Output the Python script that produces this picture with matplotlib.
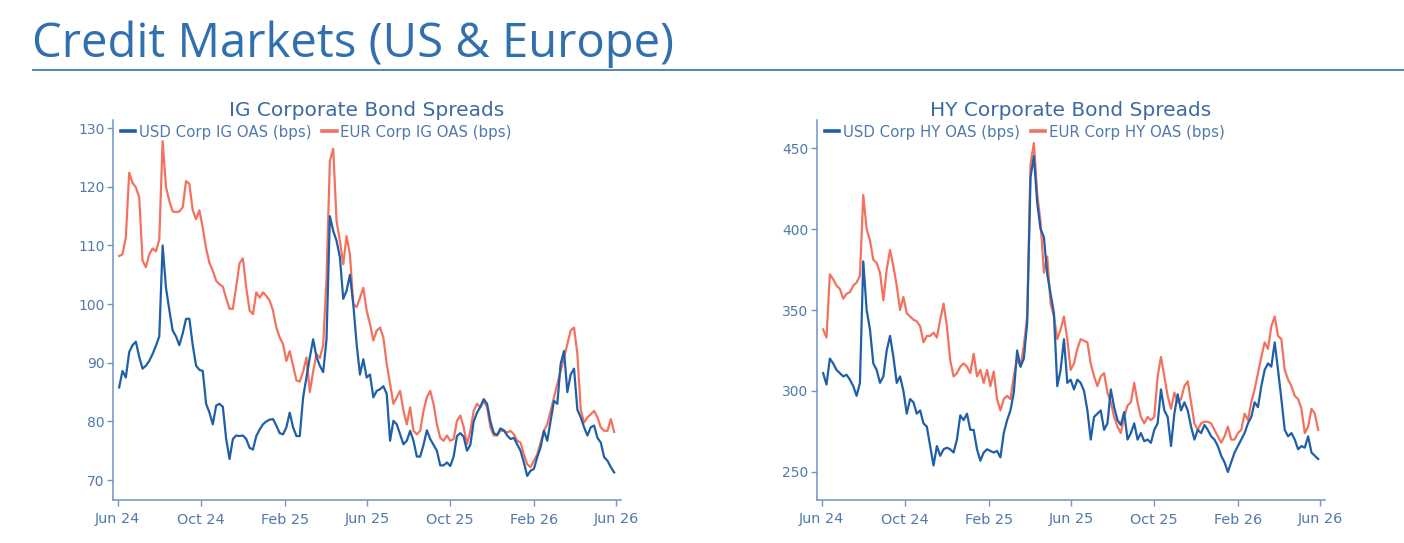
import matplotlib
matplotlib.use('Agg')
import matplotlib.pyplot as plt
import matplotlib.dates as mdates
from matplotlib.lines import Line2D
import pandas as pd

# ---------------- data ----------------
start_date = '2024-06-03'
end_date = '2026-05-29'

usd_ig = [85.8, 88.6, 87.5, 91.8, 93.0, 93.6, 91.0, 89.0, 89.5, 90.3,
          91.5, 92.9, 94.5, 110.0, 102.8, 99.0, 95.5, 94.5, 93.0, 95.0,
          97.5, 97.5, 93.0, 89.5, 88.8, 88.6, 83.0, 81.5, 79.5, 82.7,
          83.0, 82.5, 77.0, 73.6, 77.0, 77.6, 77.5, 77.6, 77.0, 75.5,
          75.2, 77.5, 78.6, 79.5, 80.0, 80.3, 80.4, 79.3, 78.0, 77.8,
          79.0, 81.5, 79.0, 77.5, 77.5, 84.1, 87.5, 90.9, 94.0, 91.0,
          89.5, 88.4, 94.0, 115.0, 112.5, 110.8, 108.0, 100.9, 102.3, 105.0,
          100.0, 93.2, 88.0, 90.6, 87.5, 88.0, 84.1, 85.2, 85.5, 86.0,
          84.7, 76.7, 80.1, 79.5, 77.8, 76.1, 76.7, 78.4, 76.7, 74.0,
          74.0, 76.0, 78.5, 77.0, 76.0, 75.0, 72.5, 72.5, 73.0, 72.4,
          74.0, 77.5, 78.0, 77.4, 75.0, 76.0, 80.0, 81.5, 82.5, 83.8,
          83.0, 80.0, 78.0, 77.7, 78.8, 78.5, 77.6, 77.0, 77.2, 76.1,
          75.0, 73.0, 70.7, 71.6, 71.9, 73.9, 75.6, 78.4, 76.7, 80.1,
          83.5, 83.0, 89.8, 92.0, 85.0, 88.0, 89.0, 82.0, 80.7, 79.0,
          77.6, 79.0, 79.3, 77.2, 76.4, 73.9, 73.3, 72.2, 71.3]

eur_ig = [108.2, 108.5, 111.4, 122.4, 120.7, 119.9, 118.2, 107.4, 106.3, 108.5,
          109.5, 109.0, 111.0, 127.8, 120.0, 117.6, 115.8, 115.7, 115.8, 116.5,
          121.0, 120.5, 116.0, 114.5, 116.0, 113.0, 109.5, 107.0, 105.7, 104.0,
          103.4, 103.0, 101.0, 99.2, 99.2, 103.0, 107.0, 107.8, 102.8, 98.9,
          98.3, 102.0, 101.1, 102.0, 101.4, 100.6, 98.9, 96.0, 94.3, 93.2,
          90.3, 92.0, 89.5, 87.0, 86.8, 88.5, 90.9, 85.0, 88.5, 91.5,
          90.8, 93.0, 104.5, 124.4, 126.5, 114.2, 110.8, 106.8, 111.6, 108.5,
          100.0, 99.5, 101.1, 102.8, 98.9, 96.6, 93.8, 95.5, 96.0, 94.3,
          89.8, 86.4, 83.0, 84.1, 85.2, 81.8, 79.5, 82.4, 78.4, 77.8,
          78.4, 81.8, 84.1, 85.2, 83.0, 79.5, 77.2, 76.7, 77.6, 76.7,
          77.0, 80.1, 81.0, 79.0, 76.1, 78.4, 81.8, 83.0, 82.4, 83.5,
          82.4, 79.0, 77.6, 77.6, 78.4, 78.4, 78.1, 78.4, 77.8, 76.7,
          76.4, 74.4, 72.7, 72.2, 73.3, 74.4, 76.4, 78.4, 79.5, 81.8,
          84.1, 86.4, 88.6, 90.9, 93.2, 95.5, 96.0, 91.5, 82.0, 79.8,
          80.7, 81.2, 81.8, 80.7, 79.0, 78.4, 78.4, 80.4, 78.2]

usd_hy = [311, 304, 320, 317, 313, 311, 309, 310, 307, 303,
          297, 305, 380, 350, 338, 317, 313, 305, 309, 325,
          334, 321, 305, 309, 300, 286, 295, 293, 286, 288,
          280, 278, 266, 254, 266, 260, 264, 265, 264, 262,
          270, 285, 282, 286, 276, 276, 264, 257, 262, 264,
          263, 262, 263, 259, 274, 282, 288, 299, 325, 315,
          320, 342, 432, 445, 416, 400, 395, 372, 360, 348,
          303, 313, 332, 305, 307, 301, 307, 305, 300, 288,
          270, 284, 286, 288, 276, 280, 301, 290, 282, 279,
          287, 270, 274, 280, 270, 274, 269, 270, 268, 276,
          280, 301, 288, 284, 266, 286, 298, 288, 293, 288,
          278, 270, 276, 274, 279, 276, 272, 270, 266, 260,
          256, 250, 256, 262, 266, 270, 274, 280, 284, 293,
          290, 303, 313, 317, 315, 330, 313, 295, 276, 272,
          274, 270, 264, 266, 265, 272, 262, 260, 258]

eur_hy = [338, 333, 372, 369, 365, 363, 357, 360, 361, 365,
          367, 371, 421, 400, 393, 381, 379, 373, 356, 375,
          387, 377, 365, 350, 358, 348, 346, 344, 343, 340,
          330, 334, 334, 336, 333, 344, 354, 340, 319, 309,
          311, 315, 317, 315, 311, 323, 309, 313, 305, 313,
          303, 312, 295, 288, 295, 297, 295, 309, 320, 315,
          328, 346, 440, 453, 422, 404, 373, 383, 354, 346,
          332, 338, 346, 332, 313, 317, 326, 332, 331, 330,
          317, 309, 303, 309, 311, 299, 293, 284, 278, 274,
          284, 291, 293, 305, 293, 284, 280, 284, 282, 284,
          309, 321, 309, 297, 289, 299, 293, 295, 303, 306,
          293, 280, 276, 280, 281, 281, 280, 276, 272, 268,
          272, 278, 270, 270, 274, 276, 286, 282, 293, 301,
          311, 321, 330, 326, 340, 346, 334, 332, 313, 307,
          303, 297, 295, 289, 274, 278, 289, 286, 276]

ig_yticks = [70, 80, 90, 100, 110, 120, 130]
hy_yticks = [250, 300, 350, 400, 450]
tick_start, tick_end = '2024-06-01', '2026-06-01'

main_title = 'Credit Markets (US & Europe)'
ig_title = 'IG Corporate Bond Spreads'
hy_title = 'HY Corporate Bond Spreads'
ig_labels = ['USD Corp IG OAS (bps)', 'EUR Corp IG OAS (bps)']
hy_labels = ['USD Corp HY OAS (bps)', 'EUR Corp HY OAS (bps)']

# ---------------- style ----------------
BLUE = '#1f5fa8'
RED = '#f3725f'
TEXT = '#5079ac'
TITLE_C = '#3d6ba1'
SPINE = '#6f95c4'
MAIN_C = '#3070ae'

W, H = 1404, 543
fig = plt.figure(figsize=(W / 100, H / 100), dpi=100)
fig.patch.set_facecolor('white')

dates = pd.date_range(start_date, end_date, periods=len(usd_ig))
tick_dates = pd.date_range(tick_start, tick_end, freq='4MS')
xmin = pd.Timestamp(tick_start) - pd.Timedelta(days=7)
xmax = pd.Timestamp(tick_end) + pd.Timedelta(days=7)

fig.text(32 / W, 1 - 57 / H, main_title, fontsize=34, color=MAIN_C,
         family=['Open Sans', 'DejaVu Sans'], fontweight='normal',
         va='baseline', ha='left')
fig.add_artist(Line2D([33 / W, 1.0], [1 - 70.5 / H, 1 - 70.5 / H],
                      transform=fig.transFigure, color='#4878b0', lw=1.3))

FONT = ['DejaVu Sans']


def make_panel(left_px, usd, eur, yticks, ylim, title, labels):
    ax = fig.add_axes([left_px / W, 43 / H, 508 / W, 380 / H])
    ax.plot(dates, eur, color=RED, lw=1.6, zorder=2)
    ax.plot(dates, usd, color=BLUE, lw=1.6, zorder=3)
    ax.set_xlim(xmin, xmax)
    ax.set_ylim(*ylim)
    ax.set_yticks(yticks)
    ax.set_xticks(tick_dates)
    ax.xaxis.set_major_formatter(mdates.DateFormatter('%b %y'))
    for s in ['top', 'right']:
        ax.spines[s].set_visible(False)
    for s in ['left', 'bottom']:
        ax.spines[s].set_color(SPINE)
        ax.spines[s].set_linewidth(1.1)
    ax.tick_params(axis='both', colors=SPINE, labelcolor=TEXT, labelsize=10,
                   length=4, width=1, direction='out')
    ax.tick_params(axis='x', pad=5, labelsize=10.4)
    ax.tick_params(axis='y', pad=2)
    for lab in ax.get_xticklabels() + ax.get_yticklabels():
        lab.set_family(FONT)
    ax.set_title(title, fontsize=14.5, color=TITLE_C, family=FONT, pad=-1)
    handles = [Line2D([], [], color=BLUE, lw=2.6), Line2D([], [], color=RED, lw=2.6)]
    leg = ax.legend(handles, labels, loc='center left', bbox_to_anchor=(0.015, 0.968),
                    ncol=2, frameon=False, handlelength=0.95, handletextpad=0.25,
                    columnspacing=0.75, borderpad=0, borderaxespad=0,
                    prop={'family': FONT, 'size': 10.8})
    for t in leg.get_texts():
        t.set_color(TEXT)
    return ax


make_panel(113, usd_ig, eur_ig, ig_yticks, (66.6, 131.4), ig_title, ig_labels)
make_panel(817, usd_hy, eur_hy, hy_yticks, (232.7, 467.3), hy_title, hy_labels)

fig.savefig('out.png', dpi=100, facecolor='white')
